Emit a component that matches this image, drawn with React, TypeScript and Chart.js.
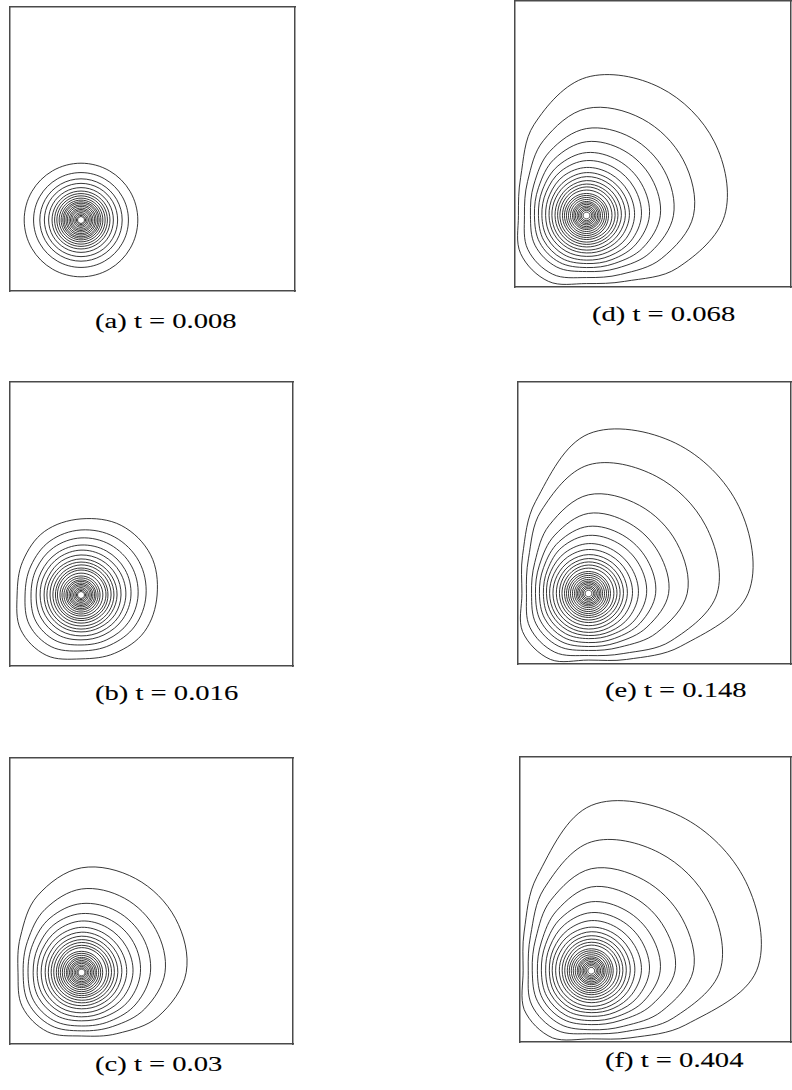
import React, { useEffect, useRef } from "react";
import { Chart, registerables } from "chart.js";

Chart.register(...registerables);

// ---------- data (domain units: box height = 100) ----------
const captions = [
  "(a) t = 0.008",
  "(b) t = 0.016",
  "(c) t = 0.03",
  "(d) t = 0.068",
  "(e) t = 0.148",
  "(f) t = 0.404",
];

// position of the point source
const sourceX = 25;
const sourceY = 25;

// contours shaped by the walls: radius from the source at
// [0°(=90°), 30°(=60°), 120°(=330°), 150°(=300°), 180°(=270°), 210°(=240°)]
// (the field is symmetric about the diagonal through the source)
const contoursA: number[][] = [];
const contoursB = [
  [26.8, 28.3, 25.8, 23.7, 22.5, 24.5],
  [22.9, 23.6, 21.9, 20.4, 19.7, 21.0],
  [20.1, 20.5, 19.3, 18.2, 17.6, 18.4],
  [17.6, 17.9, 17.0, 16.2, 15.8, 16.2],
  [15.8, 15.9, 15.3, 14.7, 14.4, 14.5],
  [14.1, 14.2, 13.8, 13.2, 13.0, 13.1],
  [12.7, 12.7, 12.4, 12.1, 12.0, 12.0],
  [11.6, 11.6, 11.4, 11.1, 10.9, 10.9],
  [10.6, 10.6, 10.3, 10.0, 9.9, 9.9],
  [9.5, 9.5, 9.4, 9.1, 9.0, 9.0],
  [8.8, 8.8, 8.6, 8.4, 8.3, 8.3],
  [7.7, 7.7, 7.6, 7.5, 7.4, 7.4],
];
const contoursC = [
  [36.6, 37.9, 30.9, 24.7, 22.2, 23.9],
  [29.2, 30.0, 25.5, 21.8, 20.4, 21.4],
  [24.1, 24.7, 22.0, 19.7, 18.7, 19.4],
  [20.6, 21.0, 19.3, 17.6, 16.9, 17.4],
  [18.0, 18.1, 17.0, 15.9, 15.5, 15.7],
  [15.8, 15.8, 15.1, 14.4, 14.1, 14.3],
  [14.1, 14.1, 13.6, 13.0, 12.7, 12.8],
  [12.7, 12.7, 12.3, 11.8, 11.6, 11.7],
  [11.5, 11.5, 11.2, 10.8, 10.6, 10.6],
  [10.5, 10.5, 10.2, 9.9, 9.7, 9.7],
  [9.5, 9.5, 9.3, 8.9, 8.8, 8.8],
  [8.7, 8.7, 8.5, 8.2, 8.1, 8.1],
];
const contoursD = [
  [48.3, 51.6, 36.7, 26.6, 23.8, 26.6],
  [37.4, 39.0, 30.2, 23.8, 21.7, 23.7],
  [30.4, 31.4, 25.8, 21.3, 19.6, 20.8],
  [25.8, 26.2, 22.7, 19.4, 18.2, 18.9],
  [22.0, 22.2, 20.0, 17.8, 16.8, 17.3],
  [19.2, 19.3, 17.9, 16.3, 15.6, 15.8],
  [16.8, 16.8, 16.0, 14.8, 14.3, 14.4],
  [15.0, 15.0, 14.3, 13.5, 13.1, 13.1],
  [13.6, 13.6, 13.0, 12.4, 12.1, 12.1],
  [12.2, 12.2, 11.7, 11.2, 11.0, 11.0],
  [11.0, 11.0, 10.7, 10.3, 10.1, 10.1],
  [10.0, 10.0, 9.7, 9.4, 9.3, 9.3],
  [8.9, 8.9, 8.8, 8.5, 8.4, 8.4],
];
const contoursE = [
  [56.6, 61.6, 37.6, 27.0, 23.6, 27.0],
  [45.6, 48.0, 33.7, 24.6, 22.0, 24.0],
  [35.0, 36.1, 27.9, 22.0, 20.2, 21.5],
  [28.4, 28.8, 23.9, 20.1, 18.8, 19.6],
  [23.8, 24.0, 21.1, 18.4, 17.4, 17.9],
  [20.6, 20.7, 18.9, 16.8, 16.0, 16.4],
  [17.7, 17.7, 16.7, 15.5, 14.9, 15.0],
  [15.6, 15.6, 14.9, 14.1, 13.8, 13.8],
  [13.8, 13.8, 13.3, 12.8, 12.6, 12.6],
  [12.4, 12.4, 12.0, 11.6, 11.4, 11.4],
  [11.2, 11.2, 10.9, 10.5, 10.3, 10.3],
  [10.1, 10.1, 9.8, 9.5, 9.4, 9.4],
  [9.0, 9.0, 8.9, 8.6, 8.5, 8.5],
];
const contoursF = [
  [58.0, 62.6, 38.1, 27.2, 23.9, 27.2],
  [45.2, 47.8, 33.2, 24.6, 22.1, 24.1],
  [35.8, 36.8, 28.5, 22.5, 20.7, 21.7],
  [29.4, 29.8, 24.3, 20.2, 18.9, 19.7],
  [24.2, 24.4, 21.3, 18.5, 17.5, 18.0],
  [20.4, 20.5, 18.7, 16.8, 16.0, 16.4],
  [17.6, 17.6, 16.5, 15.3, 14.7, 15.0],
  [15.3, 15.3, 14.7, 14.0, 13.7, 13.7],
  [13.7, 13.7, 13.2, 12.7, 12.5, 12.5],
  [12.3, 12.3, 12.0, 11.4, 11.2, 11.2],
  [11.1, 11.1, 10.8, 10.4, 10.2, 10.2],
  [10.0, 10.0, 9.8, 9.4, 9.3, 9.3],
  [9.0, 9.0, 8.8, 8.5, 8.4, 8.4],
];

// near-circular inner contours: radius
const ringsA = [20.0, 16.7, 14.5, 12.9, 11.4, 10.2, 9.3, 8.5, 7.7, 7.0, 6.4, 5.9, 5.3, 4.8, 4.2, 3.7, 3.2, 2.6, 2.1, 1.6, 1.2];
const ringsB = [6.7, 6.0, 5.3, 4.8, 4.2, 3.7, 3.2, 2.6, 2.1, 1.6, 1.2];
const ringsC = [7.4, 6.7, 6.0, 5.3, 4.8, 4.2, 3.7, 3.2, 2.6, 2.1, 1.6, 1.2];
const ringsD = [7.7, 7.0, 6.3, 5.6, 4.9, 4.4, 3.9, 3.3, 2.8, 2.3, 1.8, 1.2];
const ringsE = [7.8, 7.1, 6.4, 5.7, 5.0, 4.4, 3.9, 3.4, 2.8, 2.3, 1.8, 1.2];
const ringsF = [7.7, 7.0, 6.3, 5.6, 4.9, 4.4, 3.9, 3.3, 2.8, 2.3, 1.8, 1.2];

// ---------- layout ----------
const PAD = 4;
const panels = [
  { box: [10, 7, 295, 291], cap: [95, 328], contours: contoursA, rings: ringsA },
  { box: [10, 382, 293, 666], cap: [95, 700], contours: contoursB, rings: ringsB },
  { box: [10, 758, 293, 1044], cap: [95, 1071], contours: contoursC, rings: ringsC },
  { box: [515, 1, 791, 287], cap: [592, 321], contours: contoursD, rings: ringsD },
  { box: [518, 382, 791, 664], cap: [605, 697], contours: contoursE, rings: ringsE },
  { box: [520, 757, 791, 1042], cap: [605, 1067], contours: contoursF, rings: ringsF },
];

const ANGLES = [0, 30, 60, 90, 120, 150, 180, 210, 240, 270, 300, 330];
const LINE = "rgba(20,20,20,0.85)";
const BOX = "#4a4a4a";

// 6 symmetric readings -> 12 directions
function expand(c: number[]) {
  const [r0, r30, r120, r150, r180, r210] = c;
  return [r0, r30, r30, r0, r120, r150, r180, r210, r210, r180, r150, r120];
}

function loopPoints(rs: number[]) {
  const n = rs.length;
  const pts = rs.map((r, i) => ({
    x: sourceX + r * Math.cos((ANGLES[i] * Math.PI) / 180),
    y: sourceY + r * Math.sin((ANGLES[i] * Math.PI) / 180),
  }));
  // wrap around so every visible segment gets smooth control points
  return [pts[n - 1], ...pts, pts[0], pts[1]];
}

function axis(position: string, max: number) {
  return {
    type: "linear" as const,
    position,
    min: 0,
    max,
    ticks: { display: false },
    grid: { display: false, drawTicks: false },
    border: { display: true, color: BOX, width: 1.5 },
  };
}

function Panel({ p, caption }: { p: any; caption: string }) {
  const ref = useRef<HTMLCanvasElement | null>(null);
  const [l, t, r, b] = p.box;
  const w = r - l;
  const h = b - t;
  useEffect(() => {
    const xMax = (100 * w) / h;
    const radii = [
      ...p.contours.map(expand),
      ...p.rings.map((rr: number) => new Array(ANGLES.length).fill(rr)),
    ];
    const datasets = radii.map((rs: number[]) => {
      const data = loopPoints(rs);
      const last = data.length - 1;
      return {
        data,
        borderColor: LINE,
        borderWidth: 1,
        pointRadius: 0,
        pointHoverRadius: 0,
        tension: 0.35,
        fill: false,
        segment: {
          borderColor: (ctx: any) =>
            ctx.p0DataIndex === 0 || ctx.p1DataIndex === last ? "rgba(0,0,0,0)" : undefined,
        },
      };
    });
    const chart = new Chart(ref.current as HTMLCanvasElement, {
      type: "line",
      data: { datasets },
      options: {
        animation: false,
        responsive: false,
        maintainAspectRatio: false,
        events: [],
        layout: { padding: PAD },
        plugins: {
          legend: { display: false },
          tooltip: { enabled: false },
          title: { display: false },
        },
        scales: {
          x: axis("bottom", xMax),
          x2: axis("top", xMax),
          y: axis("left", 100),
          y2: axis("right", 100),
        },
      } as any,
    });
    return () => chart.destroy();
  }, []);
  return (
    <>
      <canvas
        ref={ref}
        width={w + 2 * PAD}
        height={h + 2 * PAD}
        style={{
          position: "absolute",
          left: l - PAD,
          top: t - PAD,
          width: w + 2 * PAD,
          height: h + 2 * PAD,
          display: "block",
        }}
      />
      <div
        style={{
          position: "absolute",
          left: p.cap[0],
          top: p.cap[1] - 18.4,
          fontFamily: "'Liberation Serif', 'Times New Roman', serif",
          fontSize: 22,
          lineHeight: "22px",
          whiteSpace: "nowrap",
          color: "#000",
          WebkitTextStroke: "0.1px #000",
          transform: "scaleX(1.3)",
          transformOrigin: "left top",
        }}
      >
        {caption}
      </div>
    </>
  );
}

export default function App() {
  return (
    <div
      style={{
        position: "absolute",
        left: 0,
        top: 0,
        width: 792,
        height: 1090,
        overflow: "hidden",
        background: "#fff",
      }}
    >
      {panels.map((p, i) => (
        <Panel key={i} p={p} caption={captions[i]} />
      ))}
    </div>
  );
}
